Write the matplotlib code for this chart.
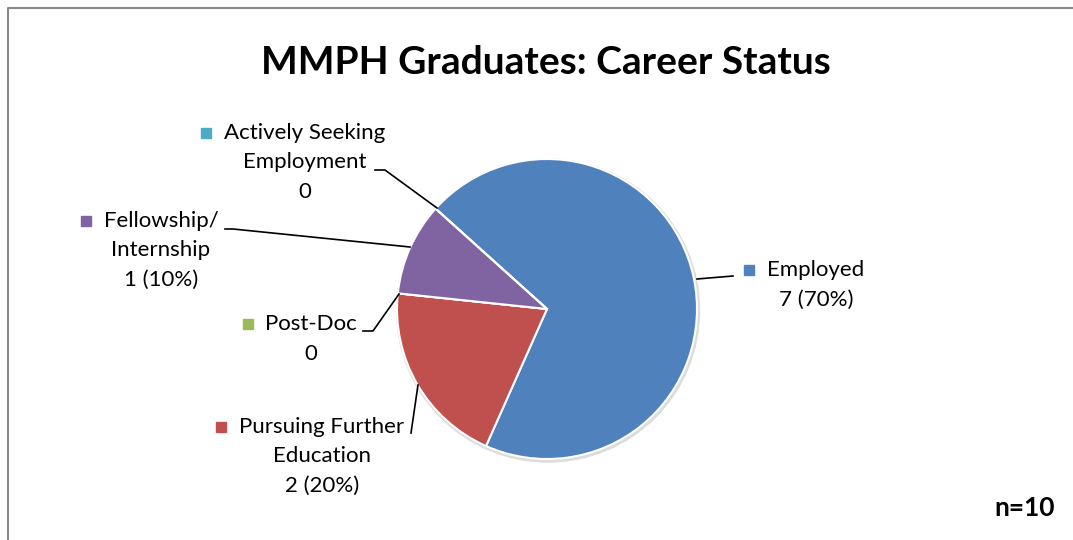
import matplotlib
matplotlib.use("Agg")
import matplotlib.pyplot as plt

# data
categories = ["Employed", "Pursuing Further Education", "Post-Doc",
              "Fellowship/ Internship", "Actively Seeking Employment"]
counts = [7, 2, 0, 1, 0]
label_lines = [["Employed", "7 (70%)"],
               ["Pursuing Further", "Education", "2 (20%)"],
               ["Post-Doc", "0"],
               ["Fellowship/", "Internship", "1 (10%)"],
               ["Actively Seeking", "Employment", "0"]]
colors = ["#4F81BD", "#C0504D", "#9BBB59", "#8064A2", "#4BACC6"]

plt.rcParams['font.family'] = ['Lato', 'DejaVu Sans']

W, H = 1073, 540
fig = plt.figure(figsize=(W / 100, H / 100), dpi=100)
ax = fig.add_axes([0, 0, 1, 1])

def Y(py):
    return H - py

cx, cy, r = 547, Y(309), 150
# faint shadow ring
ax.add_patch(plt.Circle((cx + 1, cy - 1.5), r + 1.5, color="#dcdcdc", zorder=1))
ax.pie(counts, colors=colors, startangle=138, counterclock=False,
       center=(cx, cy), radius=r, frame=True,
       wedgeprops=dict(edgecolor="white", linewidth=1.5, zorder=2))
ax.set_xlim(0, W)
ax.set_ylim(0, H)
ax.set_aspect('equal')
ax.axis('off')

# leader lines (pixel coords)
leaders = [[(697, 279), (733, 276)],
           [(418, 385), (411, 433)],
           [(399, 294), (373, 331), (363, 331)],
           [(410, 247), (233, 229), (225, 229)],
           [(437, 208), (385, 170), (375, 170)]]
for pts in leaders:
    ax.plot([p[0] for p in pts], [Y(p[1]) for p in pts], color="black", lw=1.2, zorder=3)

# label block positions: (center x of text, first-line y, marker x)
label_pos = [(816, 270, 749),
             (322, 427, 221),
             (311, 324, 248),
             (161, 221, 86),
             (305, 133, 206)]
step = 29.5
for lines, (tx, ty, mx), col in zip(label_lines, label_pos, colors):
    for i, s in enumerate(lines):
        ax.text(tx, Y(ty + i * step), s, ha='center', va='center', fontsize=16, color="#000000")
    ax.add_patch(plt.Rectangle((mx - 5, Y(ty) - 5), 10, 10, color=col, zorder=3))

ax.text(546, Y(63), "MMPH Graduates: Career Status", ha='center', va='center',
        fontsize=28, fontweight='bold')
ax.text(1055, Y(508), "n=10", ha='right', va='center', fontsize=19, fontweight='bold')

# chart area border (top and left visible)
ax.plot([8, 8, W], [0, Y(7.5), Y(7.5)], color="#888888", lw=1.5, clip_on=False)

fig.savefig("out.png", dpi=100)
